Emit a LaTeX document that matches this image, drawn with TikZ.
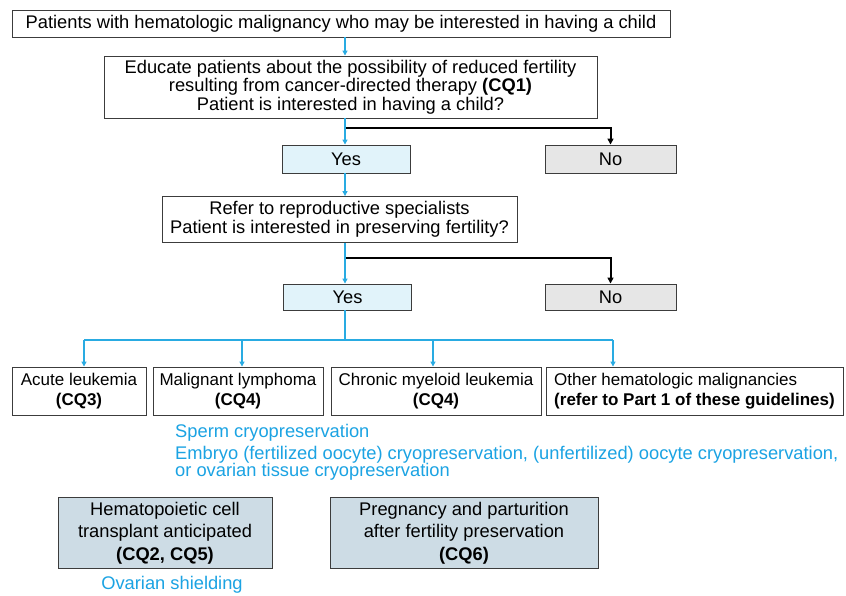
\documentclass[tikz,border=0pt]{standalone}
\usepackage{fontspec}
\setmainfont{Liberation Sans}
\usetikzlibrary{arrows.meta}
\definecolor{lnblue}{HTML}{29ABE2}
\definecolor{txblue}{HTML}{1BA3E3}
\definecolor{yesfill}{HTML}{E1F3FA}
\definecolor{nofill}{HTML}{E6E6E6}
\definecolor{stepfill}{HTML}{CDDCE5}
\definecolor{edgegray}{HTML}{3C3C3C}
\begin{document}
\begin{tikzpicture}[x=1pt,y=-1pt,
  box/.style 2 args={draw=edgegray,line width=0.9pt,minimum width=#1,minimum height=#2,inner sep=0pt,align=center,font=\fontsize{18.3}{18.6}\selectfont},
  rowbox/.style={font=\fontsize{17}{19.5}\selectfont},
  yesbox/.style={fill=yesfill},
  nobox/.style={fill=nofill},
  stepbox/.style={fill=stepfill,font=\fontsize{18.3}{22.5}\selectfont},
  bline/.style={draw=lnblue,line width=1.5pt},
  barrow/.style={bline,-{Triangle[width=5pt,length=5pt]}},
  kline/.style={draw=black,line width=2pt},
  karrow/.style={kline,-{Triangle[width=6pt,length=6pt]}},
  bluetext/.style={text=txblue,inner sep=0pt,anchor=west,font=\fontsize{18.3}{17.5}\selectfont}
]
\useasboundingbox (0,0) rectangle (846,596);
\fill[white] (0,0) rectangle (846,596);

\node[box={658}{27}] (b1) at (341,23.5) {Patients with hematologic malignancy who may be interested in having a child};
\node[box={493}{62}] (b2) at (350.5,87) {Educate patients about the possibility of reduced fertility\\resulting from cancer-directed therapy \textbf{(CQ1)}\\Patient is interested in having a child?};
\node[box={128}{28},yesbox] (yes1) at (346,159) {Yes};
\node[box={131}{28},nobox] (no1) at (610.5,159) {No};
\node[box={355}{46}] (b3) at (339.5,219.5) {Refer to reproductive specialists\\Patient is interested in preserving fertility?};
\node[box={128}{26},yesbox] (yes2) at (347.5,297) {Yes};
\node[box={131}{26},nobox] (no2) at (610.5,297) {No};

\node[box={134}{48},rowbox] (acute) at (79,391) {Acute leukemia\\\textbf{(CQ3)}};
\node[box={170}{48},rowbox] (malig) at (238,391) {Malignant lymphoma\\\textbf{(CQ4)}};
\node[box={210}{48},rowbox] (chron) at (436,391) {Chronic myeloid leukemia\\\textbf{(CQ4)}};
\node[box={297}{48},rowbox,align=left] (other) at (694.5,391) {Other hematologic malignancies\\\textbf{(refer to Part 1 of these guidelines)}};

\node[bluetext] (sperm) at (175,433) {Sperm cryopreservation};
\node[bluetext,align=left,anchor=north west] (embryo) at (175,446) {Embryo (fertilized oocyte) cryopreservation, (unfertilized) oocyte cryopreservation,\\or ovarian tissue cryopreservation};

\node[box={214}{71},stepbox] (hemato) at (165,533) {Hematopoietic cell\\transplant anticipated\\\textbf{(CQ2, CQ5)}};
\node[box={268}{71},stepbox] (preg) at (464,533) {Pregnancy and parturition\\after fertility preservation\\\textbf{(CQ6)}};
\node[text=txblue,inner sep=0pt,font=\fontsize{18.3}{19.5}\selectfont] (shield) at (172,585) {Ovarian shielding};

\coordinate (spine) at (345,0);
\coordinate (j1) at (345,128);
\coordinate (j2) at (345,258);
\coordinate (hb) at (345,340);
\coordinate (hbA) at (84,340);
\coordinate (hbB) at (242,340);
\coordinate (hbC) at (433,340);
\coordinate (hbD) at (613,340);

\draw[barrow] (b1.south -| spine) -- (b2.north -| spine);
\draw[karrow] (j1) -| (no1.north);
\draw[barrow] (b2.south -| spine) -- (yes1.north -| spine);
\draw[barrow] (yes1.south -| spine) -- (b3.north -| spine);
\draw[karrow] (j2) -| (no2.north);
\draw[barrow] (b3.south -| spine) -- (yes2.north -| spine);
\draw[bline] (yes2.south -| spine) -- (hb);
\draw[bline] (hbA) -- (hbD);
\draw[barrow] (hbA) -- (acute.north -| hbA);
\draw[barrow] (hbB) -- (malig.north -| hbB);
\draw[barrow] (hbC) -- (chron.north -| hbC);
\draw[barrow] (hbD) -- (other.north -| hbD);
\end{tikzpicture}
\end{document}
